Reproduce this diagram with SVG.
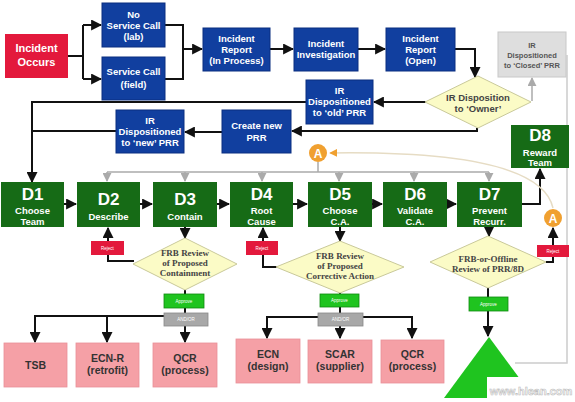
<svg xmlns="http://www.w3.org/2000/svg" width="575" height="402" viewBox="0 0 575 402">
<style>
.blue{fill:#113f9f;stroke:#0a2f80;stroke-width:1}
.red{fill:#e3193c}
.grn{fill:#166b16}
.pink{fill:#f5a0a6;stroke:#e89098;stroke-width:0.8}
.dia{fill:#fbfbc6;stroke:#c9c99a;stroke-width:1}
.rej{fill:#e3193c}
.apr{fill:#1fc41f;stroke:#118a11;stroke-width:0.8}
.and{fill:#a8a8a8;stroke:#888;stroke-width:0.8}
.t{font-family:"Liberation Sans",Arial,sans-serif;font-weight:bold;fill:#fff;text-anchor:middle}
.s{font-size:9.5px}
.big{font-size:11px}
.d{font-size:17px}
.tp{font-family:"Liberation Sans",Arial,sans-serif;font-weight:bold;fill:#333;text-anchor:middle;font-size:10.5px}
.tf{font-family:"Liberation Serif","Times New Roman",serif;font-weight:bold;fill:#444;text-anchor:middle;font-size:9px}
.tiny{font-family:"Liberation Sans",Arial,sans-serif;fill:#fff;text-anchor:middle;font-size:4.5px}
.k{fill:none;stroke:#111;stroke-width:2}
.g{fill:none;stroke:#aaa;stroke-width:1.5}
</style>
<defs>
<marker id="ak" viewBox="0 0 10 10" refX="9" refY="5" markerWidth="11" markerHeight="11" orient="auto" markerUnits="userSpaceOnUse"><path d="M0 0 L10 5 L0 10 z" fill="#111"/></marker>
<marker id="ag" viewBox="0 0 10 10" refX="9" refY="5" markerWidth="9" markerHeight="9" orient="auto" markerUnits="userSpaceOnUse"><path d="M0 0 L10 5 L0 10 z" fill="#aaa"/></marker>
<marker id="ao" viewBox="0 0 10 10" refX="9" refY="5" markerWidth="8" markerHeight="8" orient="auto" markerUnits="userSpaceOnUse"><path d="M0 0 L10 5 L0 10 z" fill="#f0a030"/></marker>
</defs>
<rect width="575" height="402" fill="#fff"/>

<g id="connectors">
<path class="k" d="M68 56 H83 M83 25 V79"/>
<path class="k" d="M83 25 H101" marker-end="url(#ak)"/>
<path class="k" d="M83 79 H101" marker-end="url(#ak)"/>
<path class="k" d="M165 25 H183 V79 H165"/>
<path class="k" d="M183 49 H202" marker-end="url(#ak)"/>
<path class="k" d="M270 49 H293" marker-end="url(#ak)"/>
<path class="k" d="M358 49 H385" marker-end="url(#ak)"/>
<path class="k" d="M455 49 H475 V77" marker-end="url(#ak)"/>
<path class="k" d="M426 102 H374" marker-end="url(#ak)"/>
<path class="g" d="M532 101 V78" marker-end="url(#ag)"/>
<path class="k" d="M477 128 V131 H292" marker-end="url(#ak)"/>
<path class="k" d="M222 132 H185" marker-end="url(#ak)"/>
<path class="k" d="M306 102 H32 V182" marker-end="url(#ak)"/>
<path class="k" d="M116 131 H32"/>
<path class="k" d="M64 204 H76" marker-end="url(#ak)"/>
<path class="k" d="M140 204 H152" marker-end="url(#ak)"/>
<path class="k" d="M217 204 H229" marker-end="url(#ak)"/>
<path class="k" d="M293 204 H307" marker-end="url(#ak)"/>
<path class="k" d="M372 204 H382" marker-end="url(#ak)"/>
<path class="k" d="M447 204 H456" marker-end="url(#ak)"/>
<path class="k" d="M522 204 H540 V169" marker-end="url(#ak)"/>
<path class="g" d="M107 172 H489 M318 162 V172"/>
<path class="g" d="M107 172 V181" marker-end="url(#ag)"/>
<path class="g" d="M185 172 V181" marker-end="url(#ag)"/>
<path class="g" d="M262 172 V181" marker-end="url(#ag)"/>
<path class="g" d="M339 172 V181" marker-end="url(#ag)"/>
<path class="g" d="M414 172 V181" marker-end="url(#ag)"/>
<path class="g" d="M489 172 V181" marker-end="url(#ag)"/>
<path d="M553 208 Q540 150 330 153" fill="none" stroke="#e6dcc4" stroke-width="1.5" marker-end="url(#ao)"/>
<path class="k" d="M108 241 V228" marker-end="url(#ak)"/>
<path class="k" d="M108 255 V261 H134"/>
<path class="k" d="M185 227 V238" marker-end="url(#ak)"/>
<path class="k" d="M263 241 V228" marker-end="url(#ak)"/>
<path class="k" d="M263 255 V267 H277"/>
<path class="k" d="M340 227 V241" marker-end="url(#ak)"/>
<path class="k" d="M489 227 V236" marker-end="url(#ak)"/>
<path class="k" d="M546 262 H553 V257"/>
<path class="k" d="M553 245 V228" marker-end="url(#ak)"/>
<path class="k" d="M185 290 V294 M185 308 V313"/>
<path class="k" d="M164 316 H35 V342" marker-end="url(#ak)"/>
<path class="k" d="M107 316 V342" marker-end="url(#ak)"/>
<path class="k" d="M185 326 V342" marker-end="url(#ak)"/>
<path class="k" d="M340 293 V294 M340 307 V313"/>
<path class="k" d="M318 317 H267 V338" marker-end="url(#ak)"/>
<path class="k" d="M363 317 H412 V338" marker-end="url(#ak)"/>
<path class="k" d="M340 326 V338" marker-end="url(#ak)"/>
<path class="k" d="M488 288 V297"/>
<path class="k" d="M488 311 V336" marker-end="url(#ak)"/>
<path d="M515 363 H567 V55" fill="none" stroke="#ccc" stroke-width="1.5"/>
</g>

<g id="incident-occurs"><rect class="red" x="5" y="34" width="63" height="44"/><text class="t big" x="36.5" y="52">Incident</text><text class="t big" x="36.5" y="66">Occurs</text></g>
<g id="no-service-call"><rect class="blue" x="102" y="3" width="63" height="44"/><text class="t s" x="133.5" y="18">No</text><text class="t s" x="133.5" y="29">Service Call</text><text class="t s" x="133.5" y="40">(lab)</text></g>
<g id="service-call"><rect class="blue" x="102" y="57" width="63" height="43"/><text class="t s" x="133.5" y="75">Service Call</text><text class="t s" x="133.5" y="88">(field)</text></g>
<g id="incident-report-in-process"><rect class="blue" x="203" y="28" width="67" height="43"/><text class="t s" x="236.5" y="42">Incident</text><text class="t s" x="236.5" y="53">Report</text><text class="t s" x="236.5" y="64">(In Process)</text></g>
<g id="incident-investigation"><rect class="blue" x="294" y="28" width="64" height="43"/><text class="t s" x="326" y="47">Incident</text><text class="t s" x="326" y="58">Investigation</text></g>
<g id="incident-report-open"><rect class="blue" x="386" y="28" width="69" height="43"/><text class="t s" x="420.5" y="42">Incident</text><text class="t s" x="420.5" y="53">Report</text><text class="t s" x="420.5" y="64">(Open)</text></g>
<g id="ir-disposition-owner"><polygon class="dia" points="478,76 531,102 478,128 425,102"/><text class="tp" x="478" y="101" style="fill:#444;font-size:9.5px">IR Disposition</text><text class="tp" x="478" y="112" style="fill:#444;font-size:9.5px">to ‘Owner’</text></g>
<g id="ir-closed-prr"><rect x="498" y="32" width="68" height="45" fill="#dedede" stroke="#c8c8c8"/><text class="tp" x="532" y="48" style="fill:#555;font-size:7.5px">IR</text><text class="tp" x="532" y="58" style="fill:#555;font-size:7.5px">Dispositioned</text><text class="tp" x="532" y="68" style="fill:#555;font-size:7.5px">to ‘Closed’ PRR</text></g>
<g id="ir-old-prr"><rect class="blue" x="306" y="80" width="67" height="44"/><text class="t s" x="339.5" y="94">IR</text><text class="t s" x="339.5" y="105">Dispositioned</text><text class="t s" x="339.5" y="116">to ‘old’ PRR</text></g>
<g id="create-new-prr"><rect class="blue" x="222" y="110" width="69" height="43"/><text class="t s" x="256.5" y="129">Create new</text><text class="t s" x="256.5" y="141">PRR</text></g>
<g id="ir-new-prr"><rect class="blue" x="116" y="110" width="68" height="43"/><text class="t s" x="150" y="124">IR</text><text class="t s" x="150" y="135">Dispositioned</text><text class="t s" x="150" y="146">to ‘new’ PRR</text></g>

<g id="d1"><rect class="grn" x="1" y="182" width="63" height="45"/><text class="t d" x="32.5" y="200">D1</text><text class="t s" x="32.5" y="214">Choose</text><text class="t s" x="32.5" y="225">Team</text></g>
<g id="d2"><rect class="grn" x="77" y="182" width="63" height="45"/><text class="t d" x="108.5" y="205">D2</text><text class="t s" x="108.5" y="220">Describe</text></g>
<g id="d3"><rect class="grn" x="153" y="182" width="64" height="45"/><text class="t d" x="185" y="205">D3</text><text class="t s" x="185" y="220">Contain</text></g>
<g id="d4"><rect class="grn" x="230" y="182" width="63" height="45"/><text class="t d" x="261.5" y="200">D4</text><text class="t s" x="261.5" y="214">Root</text><text class="t s" x="261.5" y="225">Cause</text></g>
<g id="d5"><rect class="grn" x="308" y="182" width="64" height="45"/><text class="t d" x="340" y="200">D5</text><text class="t s" x="340" y="214">Choose</text><text class="t s" x="340" y="225">C.A.</text></g>
<g id="d6"><rect class="grn" x="383" y="182" width="64" height="45"/><text class="t d" x="415" y="200">D6</text><text class="t s" x="415" y="214">Validate</text><text class="t s" x="415" y="225">C.A.</text></g>
<g id="d7"><rect class="grn" x="457" y="182" width="65" height="45"/><text class="t d" x="489.5" y="200">D7</text><text class="t s" x="489.5" y="214">Prevent</text><text class="t s" x="489.5" y="225">Recurr.</text></g>
<g id="d8"><rect class="grn" x="511" y="125" width="58" height="43"/><text class="t d" x="540" y="141">D8</text><text class="t s" x="540" y="156">Reward</text><text class="t s" x="540" y="166">Team</text></g>

<g id="a-top"><circle cx="318" cy="153" r="9" fill="#f0a030"/><text class="t" x="318" y="157.5" style="font-size:12px">A</text></g>
<g id="a-right"><circle cx="553" cy="218" r="9" fill="#f0a030"/><text class="t" x="553" y="222.5" style="font-size:12px">A</text></g>

<g id="reject-d2"><rect class="rej" x="91" y="241" width="33" height="14"/><text class="tiny" x="107.5" y="249.5">Reject</text></g>
<g id="reject-d4"><rect class="rej" x="246" y="241" width="32" height="14"/><text class="tiny" x="262" y="249.5">Reject</text></g>
<g id="reject-d7"><rect class="rej" x="537" y="245" width="32" height="12"/><text class="tiny" x="553" y="252.5">Reject</text></g>

<g id="frb-containment"><polygon class="dia" points="185,238 237,264 185,290 133,264"/><text class="tf" x="185" y="256">FRB Review</text><text class="tf" x="185" y="266">of Proposed</text><text class="tf" x="185" y="276">Containment</text></g>
<g id="frb-corrective"><polygon class="dia" points="340,241 404,267 340,293 276,267"/><text class="tf" x="340" y="259">FRB Review</text><text class="tf" x="340" y="269">of Proposed</text><text class="tf" x="340" y="279">Corrective Action</text></g>
<g id="frb-offline"><polygon class="dia" points="488,236 546,262 488,288 430,262"/><text class="tf" x="488" y="262">FRB-or-Offline</text><text class="tf" x="488" y="272">Review of PRR/8D</text></g>

<g id="approve-1"><rect class="apr" x="164" y="294" width="40" height="14"/><text class="tiny" x="184" y="302.5">Approve</text></g>
<g id="andor-1"><rect class="and" x="164" y="313" width="44" height="13"/><text class="tiny" x="186" y="321">AND/OR</text></g>
<g id="approve-2"><rect class="apr" x="320" y="294" width="39" height="13"/><text class="tiny" x="339.5" y="302">Approve</text></g>
<g id="andor-2"><rect class="and" x="318" y="313" width="45" height="13"/><text class="tiny" x="340.5" y="321">AND/OR</text></g>
<g id="approve-3"><rect class="apr" x="469" y="297" width="39" height="14"/><text class="tiny" x="488.5" y="305.5">Approve</text></g>

<g id="tsb"><rect class="pink" x="4" y="343" width="63" height="44"/><text class="tp" x="35.5" y="369">TSB</text></g>
<g id="ecn-r"><rect class="pink" x="76" y="343" width="63" height="44"/><text class="tp" x="107.5" y="362">ECN-R</text><text class="tp" x="107.5" y="374">(retrofit)</text></g>
<g id="qcr-1"><rect class="pink" x="153" y="343" width="64" height="44"/><text class="tp" x="185" y="362">QCR</text><text class="tp" x="185" y="374">(process)</text></g>
<g id="ecn"><rect class="pink" x="236" y="339" width="64" height="44"/><text class="tp" x="268" y="358">ECN</text><text class="tp" x="268" y="370">(design)</text></g>
<g id="scar"><rect class="pink" x="308" y="340" width="64" height="43"/><text class="tp" x="340" y="358">SCAR</text><text class="tp" x="340" y="370">(supplier)</text></g>
<g id="qcr-2"><rect class="pink" x="381" y="340" width="63" height="43"/><text class="tp" x="412.5" y="358">QCR</text><text class="tp" x="412.5" y="370">(process)</text></g>
<g id="triangle"><polygon points="489,337 534,398 444,398" fill="#1fc41f"/></g>

<g id="watermark"><rect x="487" y="377" width="88" height="25" fill="#fff"/><text x="531" y="395" text-anchor="middle" font-family="'Liberation Sans',Arial,sans-serif" font-weight="bold" font-size="11" fill="#fff" stroke="#bbb" stroke-width="0.6">www.hlean.com</text></g>
</svg>
